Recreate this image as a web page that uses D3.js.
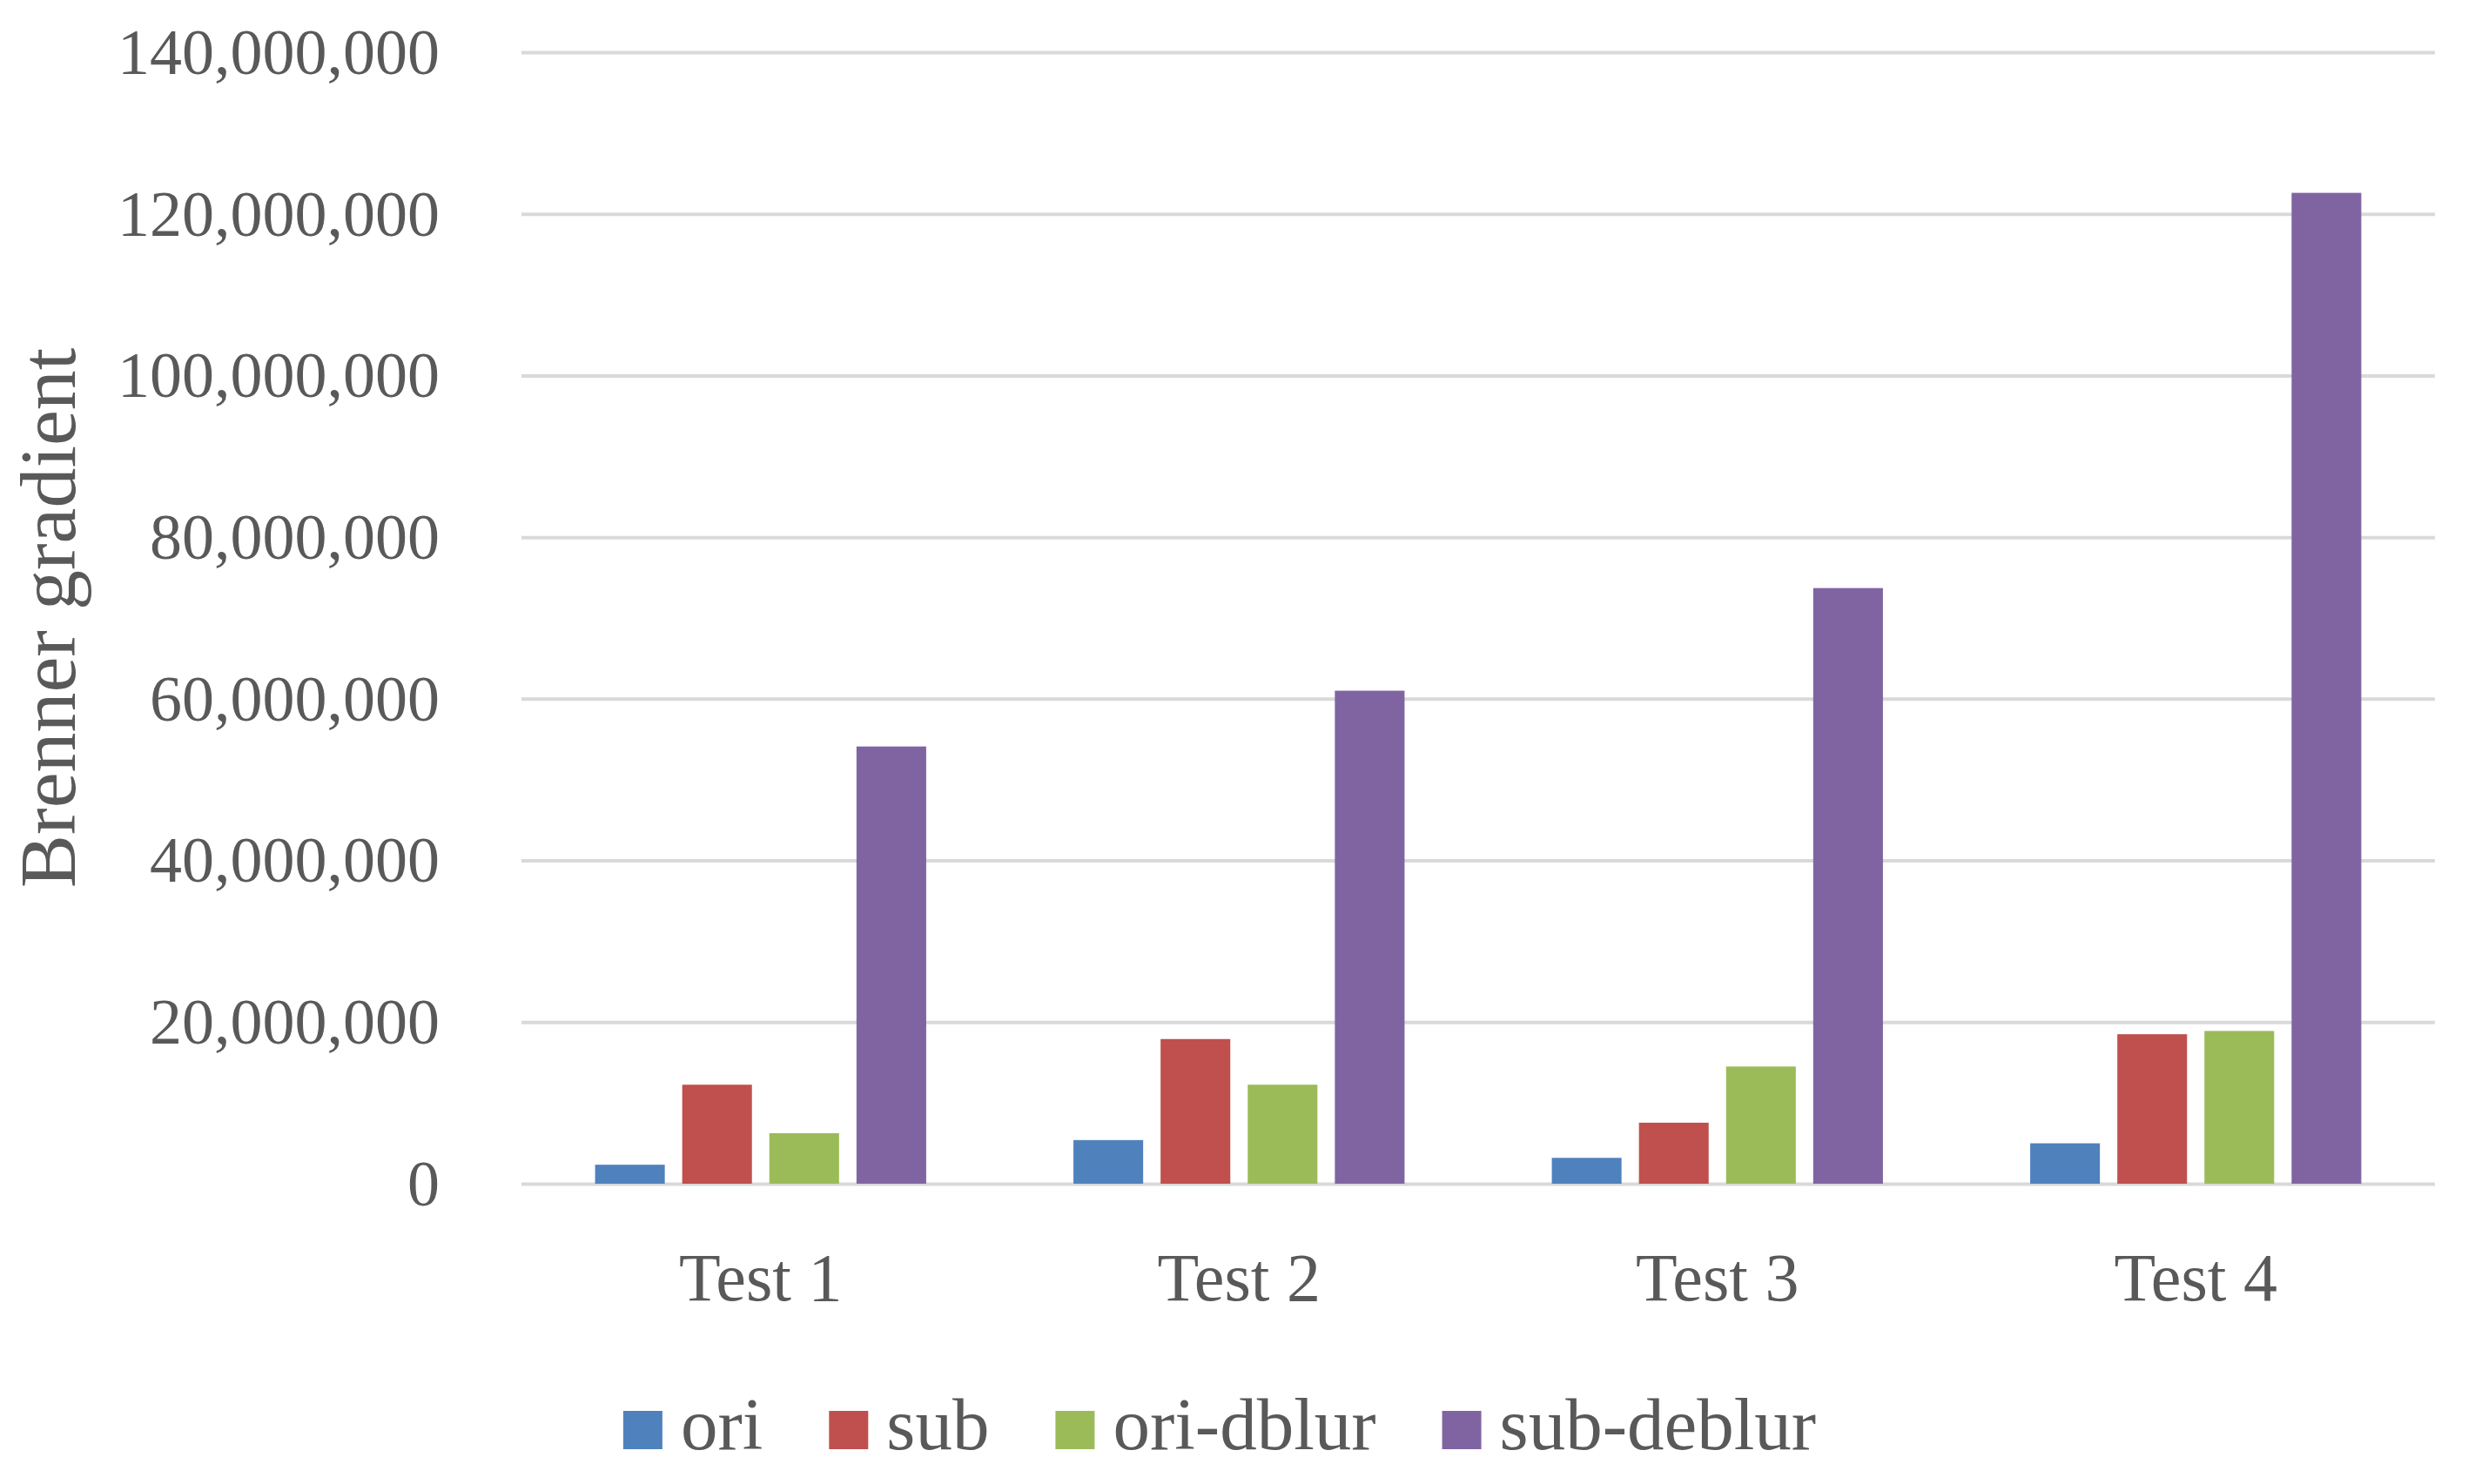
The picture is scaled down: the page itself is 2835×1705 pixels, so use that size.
<!DOCTYPE html>
<html>
<head>
<meta charset="utf-8">
<script src="https://cdn.jsdelivr.net/npm/d3@7"></script>
<style>
  body { margin: 0; background: #fff; }
  text { font-family: "Liberation Serif", "DejaVu Serif", serif; fill: #595959; }
</style>
</head>
<body>
<div id="chart"></div>
<script>
// data
var tests = ["Test 1", "Test 2", "Test 3", "Test 4"];
var seriesNames = ["ori", "sub", "ori-dblur", "sub-deblur"];
var ori = [2350000, 5400000, 3200000, 5000000];
var sub = [12250000, 17900000, 7550000, 18500000];
var oriDblur = [6250000, 12250000, 14500000, 18900000];
var subDeblur = [54100000, 61000000, 73700000, 122600000];
var yTicks = [0, 20000000, 40000000, 60000000, 80000000, 100000000, 120000000, 140000000];
var colors = ["#4F81BD", "#C0504D", "#9BBB59", "#8064A2"];

var svgwidth = 2835;
var svgheight = 1705;

var margin = { top: 60, right: 38, bottom: 345, left: 599 };
var width = svgwidth - margin.left - margin.right;
var height = svgheight - margin.top - margin.bottom;

var svg = d3.select("#chart")
    .append("svg")
    .attr("width", svgwidth)
    .attr("height", svgheight);

var chartGroup = svg.append("g")
    .attr("transform", `translate(${margin.left},${margin.top})`);

// build rows for the grouped bars
var allSeries = [ori, sub, oriDblur, subDeblur];
var rows = tests.map(function(t, i) {
    return {
        test: t,
        values: seriesNames.map(function(s, j) { return { key: s, value: allSeries[j][i] }; })
    };
});

var x0 = d3.scaleBand()
    .domain(tests)
    .range([0, width])
    .padding(0);

var x1 = d3.scaleBand()
    .domain(seriesNames)
    .range([0, x0.bandwidth()])
    .paddingInner(0.2)
    .paddingOuter(0.845);

var y = d3.scaleLinear()
    .domain([0, 140000000])
    .range([height, 0]);

var color = d3.scaleOrdinal().domain(seriesNames).range(colors);

// gridlines
var grid = chartGroup.append("g")
    .call(d3.axisLeft(y).tickValues(yTicks).tickSize(-width).tickFormat(""));
grid.select(".domain").remove();
grid.selectAll("line")
    .attr("stroke", "#D9D9D9")
    .attr("stroke-width", 4);

// y tick labels
var yAxis = chartGroup.append("g")
    .call(d3.axisLeft(y).tickValues(yTicks).tickSize(0).tickPadding(94).tickFormat(d3.format(",")));
yAxis.select(".domain").remove();
yAxis.selectAll("text")
    .attr("font-size", 74)
    .attr("dy", "0.33em")
    .style("fill", "#595959");

// bars
var groups = chartGroup.selectAll(".grp")
    .data(rows)
    .enter()
    .append("g")
    .attr("class", "grp")
    .attr("transform", d => `translate(${x0(d.test)},0)`);

groups.selectAll("rect")
    .data(d => d.values)
    .enter()
    .append("rect")
    .attr("x", d => x1(d.key))
    .attr("y", d => y(d.value))
    .attr("width", x1.bandwidth())
    .attr("height", d => height - y(d.value))
    .attr("fill", d => color(d.key));

// x labels
var xAxis = chartGroup.append("g")
    .attr("transform", `translate(0, ${height})`)
    .call(d3.axisBottom(x0).tickSize(0).tickPadding(0));
xAxis.select(".domain").remove();
xAxis.selectAll("text")
    .attr("font-size", 78)
    .attr("y", 134)
    .attr("dy", 0)
    .style("fill", "#595959");

// y axis title
svg.append("text")
    .attr("transform", "rotate(-90)")
    .attr("x", -710)
    .attr("y", 86)
    .attr("text-anchor", "middle")
    .attr("font-size", 92)
    .text("Brenner gradient");

// legend
var legend = svg.append("g");
var lx = 0;
seriesNames.forEach(function(s, i) {
    var item = legend.append("g").attr("transform", `translate(${lx},0)`);
    item.append("rect")
        .attr("x", 0)
        .attr("y", -44)
        .attr("width", 45)
        .attr("height", 44)
        .attr("fill", colors[i]);
    var t = item.append("text")
        .attr("x", 66)
        .attr("y", 0)
        .attr("font-size", 85)
        .text(s);
    lx += 66 + t.node().getComputedTextLength() + 76;
});
var legendWidth = lx - 76;
legend.attr("transform", `translate(${1401 - legendWidth / 2}, 1665)`);
</script>
</body>
</html>
